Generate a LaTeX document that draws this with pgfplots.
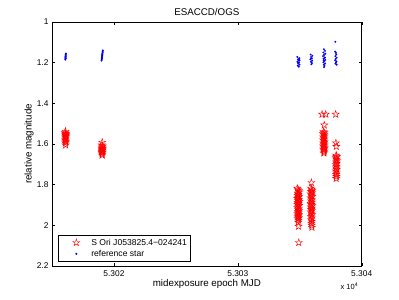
\documentclass[border=0pt]{standalone}
\usepackage{pgfplots}
\pgfplotsset{compat=1.18}
\usepackage{fontspec}
\setmainfont{Liberation Sans}
\pgfdeclareplotmark{pentagram}{%
  \pgfpathmoveto{\pgfpointpolar{90}{\pgfplotmarksize}}%
  \pgfpathlineto{\pgfpointpolar{126}{0.382\pgfplotmarksize}}%
  \pgfpathlineto{\pgfpointpolar{162}{\pgfplotmarksize}}%
  \pgfpathlineto{\pgfpointpolar{198}{0.382\pgfplotmarksize}}%
  \pgfpathlineto{\pgfpointpolar{234}{\pgfplotmarksize}}%
  \pgfpathlineto{\pgfpointpolar{270}{0.382\pgfplotmarksize}}%
  \pgfpathlineto{\pgfpointpolar{306}{\pgfplotmarksize}}%
  \pgfpathlineto{\pgfpointpolar{342}{0.382\pgfplotmarksize}}%
  \pgfpathlineto{\pgfpointpolar{18}{\pgfplotmarksize}}%
  \pgfpathlineto{\pgfpointpolar{54}{0.382\pgfplotmarksize}}%
  \pgfpathclose\pgfusepathqstroke}
\pgfplotstableread{
x y
53016.05 1.545
53016.08 1.552
53016.10 1.558
53016.12 1.548
53016.07 1.565
53016.11 1.570
53016.09 1.575
53016.13 1.562
53016.06 1.580
53016.10 1.585
53016.12 1.590
53016.08 1.595
53016.10 1.605
53016.09 1.538
53016.11 1.555
53019.05 1.592
53019.02 1.605
53019.08 1.610
53019.04 1.615
53019.06 1.620
53019.03 1.625
53019.07 1.628
53019.05 1.632
53019.02 1.636
53019.08 1.640
53019.04 1.645
53019.06 1.650
53019.05 1.655
53019.03 1.642
53019.07 1.622
53034.80 1.818
53034.86 1.825
53034.92 1.830
53034.96 1.836
53034.84 1.842
53034.90 1.848
53034.82 1.853
53034.94 1.858
53034.88 1.863
53034.80 1.868
53034.92 1.873
53034.86 1.878
53034.96 1.883
53034.84 1.888
53034.90 1.893
53034.82 1.898
53034.94 1.903
53034.88 1.908
53034.80 1.913
53034.92 1.918
53034.86 1.923
53034.96 1.928
53034.84 1.933
53034.90 1.938
53034.82 1.943
53034.94 1.948
53034.88 1.953
53034.86 1.958
53034.92 1.963
53034.84 1.968
53034.90 1.975
53034.88 1.985
53034.90 2.005
53034.92 2.085
53035.94 1.790
53035.90 1.817
53035.96 1.822
53036.00 1.828
53035.92 1.834
53035.98 1.840
53035.88 1.846
53035.94 1.852
53036.00 1.858
53035.90 1.866
53035.96 1.874
53035.92 1.880
53035.98 1.886
53035.88 1.892
53035.94 1.898
53036.00 1.904
53035.90 1.910
53035.96 1.916
53035.92 1.922
53035.98 1.928
53035.88 1.934
53035.94 1.940
53036.00 1.948
53035.90 1.956
53035.96 1.964
53035.92 1.972
53035.98 1.980
53035.94 1.990
53035.96 2.000
53035.98 2.010
53036.80 1.454
53037.10 1.454
53036.98 1.507
53036.92 1.540
53036.98 1.545
53036.88 1.550
53036.96 1.555
53037.00 1.560
53036.90 1.565
53036.94 1.570
53036.98 1.575
53036.88 1.580
53036.96 1.585
53037.00 1.590
53036.92 1.595
53036.94 1.600
53036.98 1.605
53036.90 1.610
53036.96 1.615
53037.00 1.620
53036.92 1.625
53036.94 1.630
53036.98 1.635
53036.96 1.640
53036.94 1.645
53037.90 1.454
53037.92 1.595
53037.95 1.612
53037.94 1.655
53037.98 1.662
53037.92 1.668
53037.96 1.675
53038.00 1.682
53037.94 1.688
53037.98 1.695
53037.92 1.702
53037.96 1.710
53037.94 1.718
53037.98 1.725
53037.92 1.733
53037.96 1.742
53037.94 1.750
53037.96 1.760
53037.94 1.770
}\target
\pgfplotstableread{
x y
53016.08 1.185
53016.09 1.180
53016.09 1.175
53016.10 1.170
53016.10 1.166
53016.11 1.162
53016.11 1.158
53016.12 1.155
53016.09 1.172
53016.10 1.178
53019.00 1.190
53019.01 1.185
53019.02 1.180
53019.03 1.175
53019.04 1.170
53019.05 1.165
53019.06 1.160
53019.07 1.155
53019.08 1.150
53019.09 1.145
53019.10 1.140
53019.03 1.178
53019.06 1.163
53034.80 1.172
53034.96 1.178
53034.86 1.184
53034.98 1.190
53034.82 1.195
53034.94 1.200
53034.88 1.205
53034.98 1.210
53034.84 1.215
53034.92 1.220
53034.90 1.188
53034.84 1.198
53034.96 1.182
53035.88 1.160
53036.02 1.166
53035.92 1.172
53035.98 1.178
53035.86 1.184
53036.00 1.190
53035.90 1.196
53035.98 1.202
53035.94 1.208
53035.90 1.181
53036.94 1.134
53037.04 1.142
53036.90 1.150
53037.06 1.156
53036.96 1.162
53036.88 1.168
53037.02 1.174
53036.92 1.180
53037.06 1.186
53036.98 1.192
53036.90 1.198
53037.04 1.204
53036.94 1.210
53037.00 1.216
53036.96 1.222
53037.02 1.176
53036.92 1.188
53037.88 1.097
53037.86 1.146
53037.92 1.152
53037.96 1.160
53037.88 1.168
53037.98 1.176
53037.90 1.182
53037.86 1.188
53037.96 1.194
53037.92 1.200
53037.98 1.210
53037.88 1.205
}\reference
\begin{document}
\begin{tikzpicture}
\begin{axis}[
  scale only axis,
  width=309.7bp, height=244bp,
  xmin=53015, xmax=53040,
  ymin=1, ymax=2.2,
  y dir=reverse,
  clip=false,
  scaled x ticks=false,
  xtick={53020,53030,53040},
  xticklabels={5.302,5.303,5.304},
  ytick={1,1.2,1.4,1.6,1.8,2,2.2},
  tick align=inside,
  major tick length=3bp,
  /pgf/number format/assume math mode=true,
  tick label style={font=\fontsize{8.4}{9}\selectfont},
  xticklabel style={yshift=-1.5bp},
  axis line style={line width=0.5bp},
  every tick/.style={black, line width=0.4bp},
  title={ESACCD/OGS},
  title style={at={(axis description cs:0.5,1)}, anchor=center, yshift=4bp, font=\fontsize{9.8}{11}\selectfont},
  xlabel={midexposure epoch MJD},
  xlabel style={at={(axis description cs:0.5,0)}, anchor=center, yshift=-17.5bp, font=\fontsize{9.8}{11}\selectfont},
  legend style={at={(axis description cs:0.019,0.02)}, anchor=south west,
    font=\fontsize{8.6}{9}\selectfont, draw=black, line width=0.5bp,
    inner sep=1.2bp, row sep=-0.5bp},
  legend cell align=left,
  myleg/.style={legend image code/.code={\path[draw=none,fill=none] (0bp,-2bp) rectangle (30bp,2bp); \draw plot coordinates {(17bp,0bp)};}},
]
\addplot[only marks, mark=pentagram, mark size=3.7bp, draw=red, line width=0.45bp, myleg] table[x=x,y=y] {\target};
\addlegendentry{S Ori J053825.4−024241}
\addplot[only marks, mark=*, mark size=0.75bp, draw=blue, fill=blue, myleg] table[x=x,y=y] {\reference};
\addlegendentry{reference star}
\node[anchor=east, font=\fontsize{7.5}{9}\selectfont] at ([shift={(0bp,-20bp)}]rel axis cs:1,0) {x 10\textsuperscript{4}};
\node[rotate=90, anchor=center, font=\fontsize{9.8}{11}\selectfont] at ([xshift=-23bp]rel axis cs:0,0.5) {relative magnitude};
\end{axis}
\path ([shift={(-52bp,-34bp)}]current axis.south west) rectangle ([shift={(37.3bp,22bp)}]current axis.north east);
\end{tikzpicture}
\end{document}
